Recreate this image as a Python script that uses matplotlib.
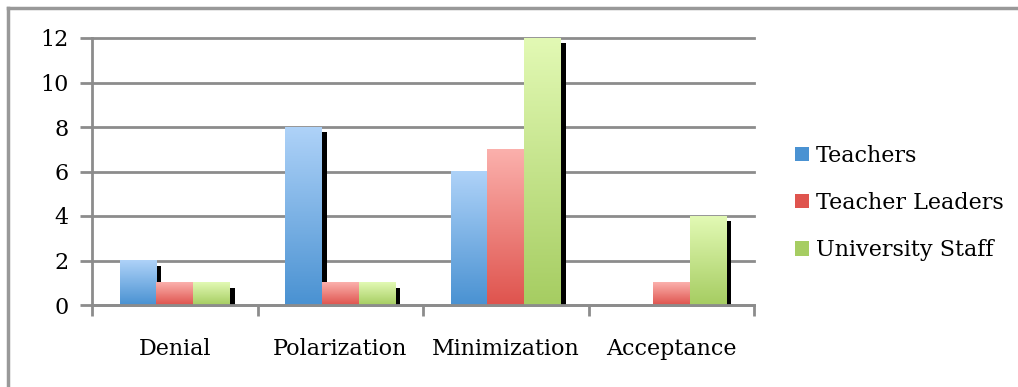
import numpy as np
import matplotlib
matplotlib.use("Agg")
import matplotlib.pyplot as plt
from matplotlib.colors import LinearSegmentedColormap
from matplotlib.lines import Line2D
from matplotlib.patches import Rectangle
import matplotlib.transforms as mtransforms

categories = ["Denial", "Polarization", "Minimization", "Acceptance"]
series = ["Teachers", "Teacher Leaders", "University Staff"]
teachers = [2, 8, 6, 0]
teacher_leaders = [1, 1, 7, 1]
university_staff = [1, 1, 12, 4]
values = [teachers, teacher_leaders, university_staff]

# light top -> dark bottom for each series
gradients = [("#aed2f8", "#4a92d2"),
             ("#fbb0ac", "#df544e"),
             ("#e2f9b4", "#a6cd62")]

plt.rcParams["font.family"] = ["DejaVu Serif"]
fig = plt.figure(figsize=(10.18, 3.87), dpi=100)
ax = fig.add_axes([92 / 1018, 82 / 387, 662 / 1018, 267 / 387])

x = np.arange(len(categories))
width = 0.222
offsets = [-width, 0, width]

shadow = mtransforms.offset_copy(ax.transData, fig=fig, x=5, y=-5, units="dots")

for vals, off, (top, bot), name in zip(values, offsets, gradients, series):
    bars = ax.bar(x + off, vals, width, color="none", edgecolor="none", zorder=3)
    cmap = LinearSegmentedColormap.from_list(name, [bot, top])
    for b in bars:
        h = b.get_height()
        if h <= 0:
            continue
        x0 = b.get_x()
        # shadow behind the bar
        sh = Rectangle((x0, 0), b.get_width(), h, facecolor="black",
                       edgecolor="none", transform=shadow, zorder=2)
        sh.set_clip_path(Rectangle((0, 0), 1, 1, transform=ax.transAxes))
        ax.add_patch(sh)
        grad = np.linspace(0, 1, 100).reshape(-1, 1)
        ax.imshow(grad, cmap=cmap, origin="lower", aspect="auto",
                  extent=(x0, x0 + b.get_width(), 0, h), zorder=4,
                  interpolation="bilinear")

ax.set_xlim(-0.5, len(categories) - 0.5)
ax.set_ylim(0, 12)
ax.set_yticks(range(0, 13, 2))
ax.set_xticks(x)
ax.set_xticklabels(categories)
ax.set_xticks(np.arange(-0.5, len(categories), 1), minor=True)
ax.tick_params(axis="x", which="major", length=0, pad=24, labelsize=16)
ax.tick_params(axis="x", which="minor", length=8, width=2, color="#8c8c8c")
ax.tick_params(axis="y", length=9, width=2, color="#8c8c8c", labelsize=16, pad=8)

ax.grid(axis="y", color="#8c8c8c", linewidth=2, zorder=1)
for gl in ax.get_ygridlines():
    gl.set_clip_on(False)
ax.set_axisbelow(True)

for side in ["top", "right"]:
    ax.spines[side].set_visible(False)
for side in ["left", "bottom"]:
    ax.spines[side].set_color("#8c8c8c")
    ax.spines[side].set_linewidth(2)
    ax.spines[side].set_zorder(5)

handles = [Rectangle((0, 0), 1, 1, facecolor=c[1], edgecolor="none") for c in gradients]
fig.legend(handles, series, loc="center left",
           bbox_to_anchor=(795 / 1018, 1 - 203 / 387),
           bbox_transform=fig.transFigure, borderpad=0, borderaxespad=0,
           frameon=False, fontsize=16, handlelength=0.63, handleheight=0.63,
           handletextpad=0.3, labelspacing=1.14)

# outer frame (top and left edges visible)
fig.add_artist(Line2D([8 / 1018, 1], [1 - 8 / 387] * 2, color="#999999", lw=2.5))
fig.add_artist(Line2D([8 / 1018] * 2, [0, 1 - 8 / 387], color="#999999", lw=2.5))

fig.savefig("out.png", dpi=100)
